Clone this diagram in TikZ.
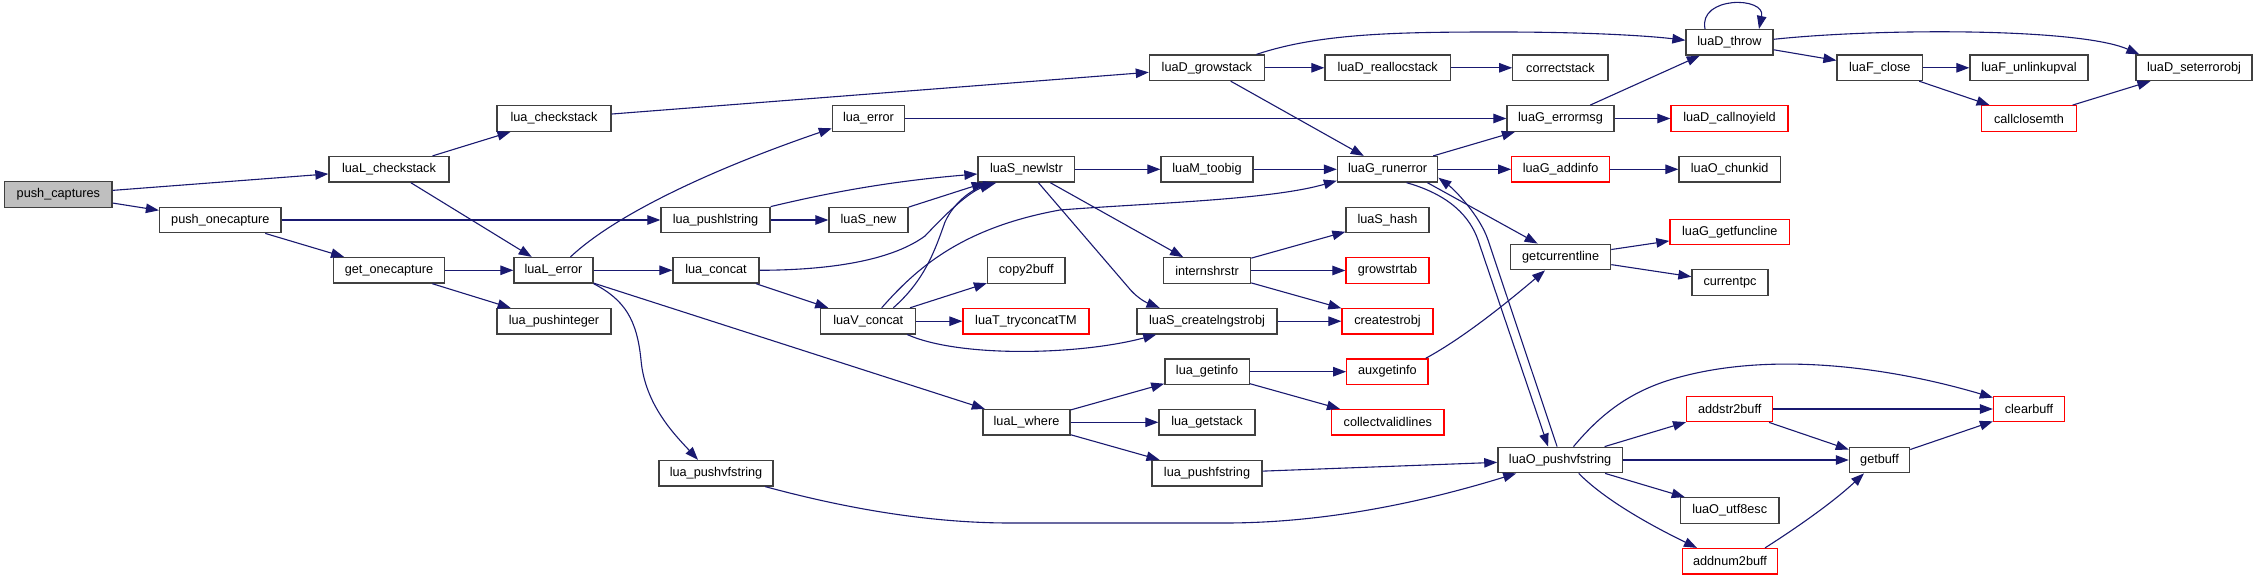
\documentclass[tikz,border=0pt]{standalone}
\usepackage{fontspec}
\setmainfont{Liberation Sans}
\usetikzlibrary{arrows.meta}
\definecolor{edgec}{HTML}{191970}
\definecolor{nodeb}{HTML}{404040}
\definecolor{capfill}{HTML}{BFBFBF}
\begin{document}
\begin{tikzpicture}[x=1pt,y=-1pt,
  fn/.style={draw=nodeb, line width=1.3pt, fill=white, rectangle, inner sep=0pt, minimum height=25.5pt, font=\fontsize{12.7}{14}\selectfont},
  rn/.style={fn, draw=red},
  gn/.style={fn, fill=capfill},
  ed/.style={draw=edgec, line width=1.1pt, -{Triangle[length=13pt,width=9.5pt]}}]
\fill[white] (0,0) rectangle (2257,580);
\useasboundingbox (0,0) rectangle (2257,580);

% nodes
\node[gn,minimum width=107.2pt] (push_captures) at (58.4,194.5) {push\_captures};
\node[fn,minimum width=121.5pt] (push_onecapture) at (220.3,220) {push\_onecapture};
\node[fn,minimum width=120pt] (luaL_checkstack) at (389,169.3) {luaL\_checkstack};
\node[fn,minimum width=111pt] (get_onecapture) at (389,270.3) {get\_onecapture};
\node[fn,minimum width=114pt] (lua_checkstack) at (554,118.5) {lua\_checkstack};
\node[fn,minimum width=79pt] (luaL_error) at (553.5,270.3) {luaL\_error};
\node[fn,minimum width=114pt] (lua_pushinteger) at (554,321.3) {lua\_pushinteger};
\node[fn,minimum width=109pt] (lua_pushlstring) at (715.5,220) {lua\_pushlstring};
\node[fn,minimum width=86pt] (lua_concat) at (716,270.3) {lua\_concat};
\node[fn,minimum width=114pt] (lua_pushvfstring) at (716,473.2) {lua\_pushvfstring};
\node[fn,minimum width=72.2pt] (lua_error) at (868.5,118.5) {lua\_error};
\node[fn,minimum width=79pt] (luaS_new) at (868.5,220) {luaS\_new};
\node[fn,minimum width=95pt] (luaV_concat) at (868.3,321.2) {luaV\_concat};
\node[fn,minimum width=87pt] (luaL_where) at (1026.5,422.3) {luaL\_where};
\node[fn,minimum width=96.8pt] (luaS_newlstr) at (1026.4,169.3) {luaS\_newlstr};
\node[fn,minimum width=77.5pt] (copy2buff) at (1026.3,270.5) {copy2buff};
\node[rn,minimum width=126pt] (luaT_tryconcatTM) at (1026,321.2) {luaT\_tryconcatTM};
\node[fn,minimum width=115pt] (luaD_growstack) at (1206.9,67.8) {luaD\_growstack};
\node[fn,minimum width=92pt] (luaM_toobig) at (1207,169.3) {luaM\_toobig};
\node[fn,minimum width=87.2pt] (internshrstr) at (1207,270.5) {internshrstr};
\node[fn,minimum width=140.2pt] (luaS_createlngstrobj) at (1207,321.2) {luaS\_createlngstrobj};
\node[fn,minimum width=84.3pt] (lua_getinfo) at (1207,371.7) {lua\_getinfo};
\node[fn,minimum width=96pt] (lua_getstack) at (1207,422.3) {lua\_getstack};
\node[fn,minimum width=110pt] (lua_pushfstring) at (1207,473.2) {lua\_pushfstring};
\node[fn,minimum width=125.4pt] (luaD_reallocstack) at (1387.7,67.8) {luaD\_reallocstack};
\node[fn,minimum width=100.3pt] (luaG_runerror) at (1387.6,169.3) {luaG\_runerror};
\node[fn,minimum width=83pt] (luaS_hash) at (1387.5,220) {luaS\_hash};
\node[rn,minimum width=83pt] (growstrtab) at (1387.5,270.5) {growstrtab};
\node[rn,minimum width=91pt] (createstrobj) at (1387.5,321.2) {createstrobj};
\node[rn,minimum width=81.3pt] (auxgetinfo) at (1387.4,371.7) {auxgetinfo};
\node[rn,minimum width=112.3pt] (collectvalidlines) at (1387.8,422.3) {collectvalidlines};
\node[fn,minimum width=95.2pt] (correctstack) at (1560.4,67.8) {correctstack};
\node[fn,minimum width=107pt] (luaG_errormsg) at (1560.5,118.5) {luaG\_errormsg};
\node[rn,minimum width=97.7pt] (luaG_addinfo) at (1560.6,169.3) {luaG\_addinfo};
\node[fn,minimum width=100pt] (getcurrentline) at (1560.6,257) {getcurrentline};
\node[fn,minimum width=124.5pt] (luaO_pushvfstring) at (1560.1,460) {luaO\_pushvfstring};
\node[fn,minimum width=87pt] (luaD_throw) at (1729.5,42.3) {luaD\_throw};
\node[rn,minimum width=117pt] (luaD_callnoyield) at (1729.5,118.5) {luaD\_callnoyield};
\node[fn,minimum width=101.4pt] (luaO_chunkid) at (1729.7,169.3) {luaO\_chunkid};
\node[rn,minimum width=119.7pt] (luaG_getfuncline) at (1729.8,232) {luaG\_getfuncline};
\node[fn,minimum width=76pt] (currentpc) at (1730,282.5) {currentpc};
\node[rn,minimum width=86pt] (addstr2buff) at (1729.7,409) {addstr2buff};
\node[fn,minimum width=98.3pt] (luaO_utf8esc) at (1729.7,510.5) {luaO\_utf8esc};
\node[rn,minimum width=94.7pt] (addnum2buff) at (1730,561.3) {addnum2buff};
\node[fn,minimum width=85.5pt] (luaF_close) at (1879.8,67.8) {luaF\_close};
\node[fn,minimum width=60.2pt] (getbuff) at (1879.5,460) {getbuff};
\node[fn,minimum width=118pt] (luaF_unlinkupval) at (2029,67.8) {luaF\_unlinkupval};
\node[rn,minimum width=94.7pt] (callclosemth) at (2029,118.5) {callclosemth};
\node[rn,minimum width=71pt] (clearbuff) at (2029,409) {clearbuff};
\node[fn,minimum width=116pt] (luaD_seterrorobj) at (2194,67.8) {luaD\_seterrorobj};

% edges
\draw[ed] (push_captures) -- (luaL_checkstack);
\draw[ed] (push_captures) -- (push_onecapture);
\draw[ed] (luaL_checkstack) -- (lua_checkstack);
\draw[ed] (luaL_checkstack) -- (luaL_error);
\draw[ed] (push_onecapture) -- (lua_pushlstring);
\draw[ed] (push_onecapture) -- (get_onecapture);
\draw[ed] (get_onecapture) -- (luaL_error);
\draw[ed] (get_onecapture) -- (lua_pushinteger);
\draw[ed] (lua_checkstack) -- (luaD_growstack);
\draw[ed] ([xshift=17pt]luaL_error.north) .. controls (615,215) and (710,170) .. ([yshift=-9.8pt]lua_error.west);
\draw[ed] (luaL_error) -- (lua_concat);
\draw[ed] (luaL_error) -- (luaL_where);
\draw[ed] (luaL_error.south east) .. controls (625,300) and (637,320) .. (641,360) .. controls (645,405) and (675,435) .. ([xshift=-18pt]lua_pushvfstring.north);
\draw[ed] (lua_pushlstring.north east) .. controls (815,196) and (880,182) .. ([yshift=-4.7pt]luaS_newlstr.west);
\draw[ed] (lua_pushlstring) -- (luaS_new);
\draw[ed] (lua_error) -- (luaG_errormsg);
\draw[ed] (luaS_new) -- (luaS_newlstr);
\draw[ed] (lua_concat.east) .. controls (840,270) and (895,258) .. (925,236) .. controls (945,215) and (965,195) .. ([xshift=15pt]luaS_newlstr.south west);
\draw[ed] (lua_concat) -- (luaV_concat);
\draw[ed] ([xshift=25pt]luaV_concat.north) .. controls (925,280) and (935,250) .. (945,222) .. controls (955,200) and (975,188) .. ([xshift=19pt]luaS_newlstr.south west);
\draw[ed] ([xshift=13.4pt]luaV_concat.north) .. controls (915,270) and (960,228) .. (1060,210) .. controls (1150,203) and (1270,200) .. ([yshift=2pt]luaG_runerror.south west);
\draw[ed] (luaV_concat) -- (copy2buff);
\draw[ed] (luaV_concat) -- (luaT_tryconcatTM);
\draw[ed] ([xshift=39pt]luaV_concat.south) .. controls (960,358) and (1080,355) .. ([xshift=20pt]luaS_createlngstrobj.south west);
\draw[ed] (luaS_newlstr) -- (luaM_toobig);
\draw[ed] (luaS_newlstr) -- (internshrstr);
\draw[ed] ([xshift=12pt]luaS_newlstr.south) -- (1128,287) .. controls (1136,297) and (1145,302) .. ([xshift=-47.4pt]luaS_createlngstrobj.north);
\draw[ed] (luaM_toobig) -- (luaG_runerror);
\draw[ed] (luaD_growstack) -- (luaD_reallocstack);
\draw[ed] (luaD_growstack) -- (luaG_runerror);
\draw[ed] ([xshift=49.6pt]luaD_growstack.north) .. controls (1320,33) and (1400,32) .. (1500,32) .. controls (1590,32) and (1650,36) .. ([yshift=2pt]luaD_throw.west);
\draw[ed] (luaD_reallocstack) -- (correctstack);
\draw[ed] (internshrstr) -- (luaS_hash);
\draw[ed] (internshrstr) -- (growstrtab);
\draw[ed] (internshrstr) -- (createstrobj);
\draw[ed] (luaS_createlngstrobj) -- (createstrobj);
\draw[ed] (luaL_where) -- (lua_getinfo);
\draw[ed] (luaL_where) -- (lua_getstack);
\draw[ed] (luaL_where) -- (lua_pushfstring);
\draw[ed] (lua_getinfo) -- (auxgetinfo);
\draw[ed] (lua_getinfo) -- (collectvalidlines);
\draw[ed] (lua_pushfstring) -- (luaO_pushvfstring);
\draw[ed] ([xshift=-8.5pt]lua_pushvfstring.south east) .. controls (870,515) and (950,523) .. (1010,523) -- (1225,523) .. controls (1330,523) and (1430,500) .. ([xshift=19pt]luaO_pushvfstring.south west);
\draw[ed] ([xshift=-3pt]auxgetinfo.north east) .. controls (1465,337) and (1510,300) .. ([xshift=-15.6pt]getcurrentline.south);
\draw[ed] (luaG_runerror) -- (luaG_errormsg);
\draw[ed] (luaG_runerror) -- (luaG_addinfo);
\draw[ed] ([xshift=-11pt]luaG_runerror.south east) -- ([xshift=-23pt]getcurrentline.north);
\draw[ed] ([xshift=19pt]luaG_runerror.south) .. controls (1450,195) and (1470,217) .. (1478,240) -- ([xshift=-12pt]luaO_pushvfstring.north);
\draw[ed] ([xshift=-3pt]luaO_pushvfstring.north) -- (1488,240) .. controls (1480,216) and (1455,190) .. ([yshift=5pt]luaG_runerror.south east);
\draw[ed] (luaG_errormsg) -- (luaD_throw);
\draw[ed] (luaG_errormsg) -- (luaD_callnoyield);
\draw[ed] (luaG_addinfo) -- (luaO_chunkid);
\draw[ed] (getcurrentline) -- (luaG_getfuncline);
\draw[ed] (getcurrentline) -- (currentpc);
\draw[ed] ([xshift=-24.5pt]luaD_throw.north) .. controls (1698,-4) and (1766,-4) .. ([xshift=29.5pt]luaD_throw.north);
\draw[ed] (luaD_throw) -- (luaF_close);
\draw[ed] ([yshift=3pt]luaD_throw.east) .. controls (1880,28) and (2080,28) .. ([xshift=4pt]luaD_seterrorobj.north west);
\draw[ed] (luaF_close) -- (luaF_unlinkupval);
\draw[ed] (luaF_close) -- (callclosemth);
\draw[ed] (callclosemth) -- (luaD_seterrorobj);
\draw[ed] ([xshift=13.4pt]luaO_pushvfstring.north) .. controls (1600,415) and (1630,390) .. (1680,377) .. controls (1780,350) and (1900,370) .. ([yshift=-2pt]clearbuff.north west);
\draw[ed] (luaO_pushvfstring) -- (addstr2buff);
\draw[ed] (luaO_pushvfstring) -- (getbuff);
\draw[ed] (luaO_pushvfstring) -- (luaO_utf8esc);
\draw[ed] ([xshift=18.6pt]luaO_pushvfstring.south) .. controls (1605,500) and (1650,525) .. ([xshift=-33pt]addnum2buff.north);
\draw[ed] (addstr2buff) -- (clearbuff);
\draw[ed] (addstr2buff) -- (getbuff);
\draw[ed] ([xshift=35pt]addnum2buff.north) .. controls (1790,532) and (1830,505) .. ([xshift=-15.5pt]getbuff.south);
\draw[ed] (getbuff) -- (clearbuff);
\end{tikzpicture}
\end{document}
